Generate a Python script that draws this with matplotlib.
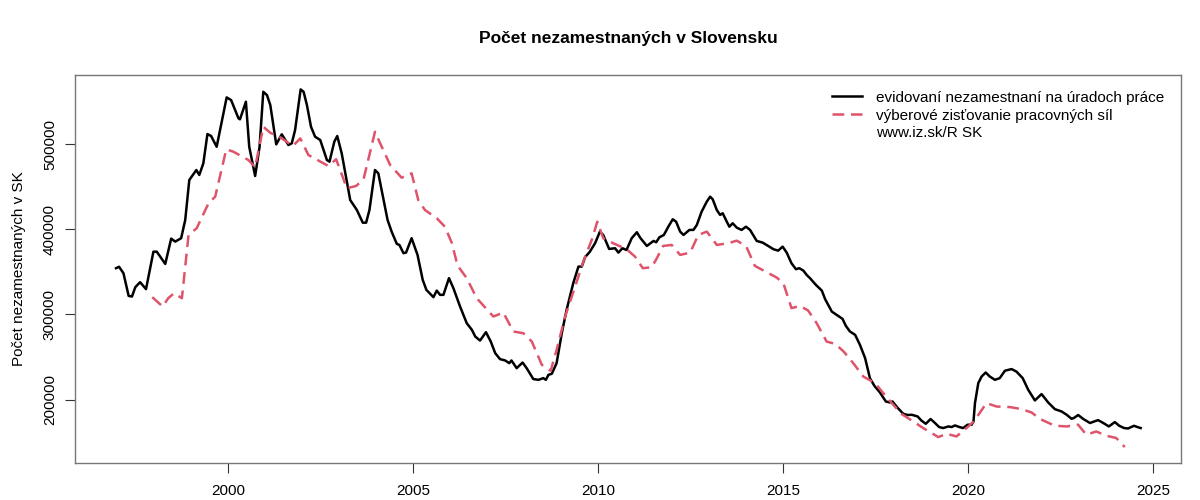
import matplotlib
matplotlib.use("Agg")
import matplotlib.pyplot as plt
import numpy as np

plt.rcParams['font.family'] = ['Liberation Sans', 'DejaVu Sans']

title = "Počet nezamestnaných v Slovensku"
ylabel = "Počet nezamestnaných v SK"
legend_labels = ["evidovaní nezamestnaní na úradoch práce",
                 "výberové zisťovanie pracovných síl",
                 "www.iz.sk/R SK"]

# registered unemployed (black)
reg_t = [1996.97, 1997.05, 1997.17, 1997.31, 1997.40, 1997.49, 1997.62, 1997.78, 1997.98, 1998.07,
         1998.30, 1998.46, 1998.57, 1998.73, 1998.84, 1998.95, 1999.14, 1999.22, 1999.33, 1999.44,
         1999.54, 1999.69, 1999.96, 2000.08, 2000.28, 2000.32, 2000.48, 2000.57, 2000.73, 2000.85,
         2000.95, 2001.05, 2001.14, 2001.30, 2001.45, 2001.63, 2001.72, 2001.81, 2001.96, 2002.04,
         2002.13, 2002.24, 2002.35, 2002.49, 2002.67, 2002.74, 2002.87, 2002.95, 2003.07, 2003.30,
         2003.48, 2003.64, 2003.73, 2003.82, 2003.97, 2004.06, 2004.15, 2004.31, 2004.42, 2004.56,
         2004.63, 2004.74, 2004.81, 2004.96, 2005.12, 2005.26, 2005.36, 2005.55, 2005.64, 2005.73,
         2005.82, 2005.97, 2006.09, 2006.27, 2006.45, 2006.59, 2006.68, 2006.81, 2006.97, 2007.10,
         2007.22, 2007.35, 2007.49, 2007.60, 2007.66, 2007.80, 2007.96, 2008.07, 2008.25, 2008.39,
         2008.52, 2008.59, 2008.66, 2008.75, 2008.88, 2009.02, 2009.15, 2009.33, 2009.47, 2009.56,
         2009.65, 2009.78, 2009.92, 2010.05, 2010.14, 2010.30, 2010.46, 2010.55, 2010.66, 2010.77,
         2010.91, 2011.05, 2011.14, 2011.32, 2011.50, 2011.57, 2011.66, 2011.78, 2011.90, 2012.02,
         2012.11, 2012.22, 2012.31, 2012.47, 2012.58, 2012.67, 2012.80, 2012.94, 2013.03, 2013.10,
         2013.21, 2013.30, 2013.37, 2013.48, 2013.55, 2013.64, 2013.75, 2013.88, 2014.00, 2014.11,
         2014.29, 2014.45, 2014.60, 2014.74, 2014.87, 2014.99, 2015.10, 2015.23, 2015.35, 2015.44,
         2015.55, 2015.64, 2015.73, 2015.89, 2016.05, 2016.14, 2016.32, 2016.45, 2016.61, 2016.70,
         2016.81, 2016.95, 2017.08, 2017.22, 2017.35, 2017.47, 2017.62, 2017.78, 2017.89, 2017.96,
         2018.09, 2018.25, 2018.37, 2018.48, 2018.64, 2018.74, 2018.86, 2018.99, 2019.11, 2019.22,
         2019.33, 2019.47, 2019.56, 2019.65, 2019.77, 2019.87, 2019.99, 2020.10, 2020.15, 2020.19,
         2020.28, 2020.37, 2020.48, 2020.59, 2020.73, 2020.86, 2021.00, 2021.18, 2021.31, 2021.48,
         2021.63, 2021.81, 2021.99, 2022.17, 2022.35, 2022.53, 2022.67, 2022.80, 2022.86, 2022.98,
         2023.12, 2023.30, 2023.41, 2023.52, 2023.66, 2023.81, 2023.97, 2024.09, 2024.22, 2024.33,
         2024.49, 2024.58, 2024.67]
reg_v = [354300, 356000, 348400, 321800, 321000, 332000, 337900, 329700, 373700, 373700,
         359300, 389000, 385500, 389500, 410900, 457800, 469500, 463700, 477400, 511700,
         509400, 496800, 554700, 551600, 530100, 529000, 549600, 496800, 462500, 496800,
         561300, 557400, 545700, 499600, 511400, 498800, 500800, 516400, 564100, 561300,
         545700, 520300, 508600, 504700, 481200, 479300, 502700, 509400, 489100, 434300,
         422600, 407700, 407700, 422600, 469500, 465600, 446100, 410900, 397200, 382800,
         381600, 371900, 372600, 389500, 369900, 340600, 328800, 320300, 328000, 323000,
         323000, 342600, 330800, 309300, 289800, 281900, 274100, 269400, 279200, 268200,
         254600, 247600, 246000, 242900, 246000, 237000, 243600, 237000, 224200, 223300,
         225300, 223300, 229200, 230400, 242900, 278000, 305400, 336700, 356200, 356200,
         367200, 373700, 383600, 397200, 393300, 376900, 377700, 372600, 377700, 375700,
         389500, 396500, 390000, 380400, 386300, 384700, 390600, 393300, 403000, 411700,
         408900, 397200, 393300, 399200, 399200, 405000, 420600, 432400, 438200, 435200,
         422600, 416800, 418800, 408900, 403000, 407000, 401900, 399200, 403000, 399200,
         386300, 384300, 380400, 376600, 374900, 379600, 372600, 360100, 353100, 354300,
         351500, 346400, 342600, 334700, 328000, 317900, 303400, 299500, 294800, 286600,
         280000, 276100, 264400, 248800, 225300, 216300, 208500, 197900, 196700, 197900,
         190900, 183500, 182000, 182300, 180300, 175600, 171700, 177300, 172600, 167900,
         166700, 168600, 167900, 169800, 167900, 166700, 170600, 170600, 174400, 196000,
         219500, 227200, 231900, 227200, 223300, 225300, 234000, 235900, 233000, 225300,
         211600, 199100, 206600, 196700, 188900, 186200, 182300, 177600, 178400, 182000,
         177300, 172600, 174400, 176000, 172600, 168600, 173700, 169400, 166700, 166200,
         169400, 167900, 166700]

# labour force survey (red dashed)
lfs_t = [1997.95, 1998.23, 1998.38, 1998.54, 1998.75, 1998.93, 1999.15, 1999.47, 1999.65, 1999.95,
         2000.14, 2000.55, 2000.73, 2000.95, 2001.14, 2001.41, 2001.75, 2001.95, 2002.17, 2002.71,
         2002.92, 2003.21, 2003.46, 2003.66, 2003.97, 2004.11, 2004.38, 2004.69, 2004.96, 2005.14,
         2005.32, 2005.64, 2005.86, 2006.05, 2006.20, 2006.45, 2006.72, 2007.17, 2007.44, 2007.71,
         2007.98, 2008.21, 2008.48, 2008.72, 2008.88, 2009.11, 2009.38, 2009.60, 2009.83, 2009.98,
         2010.14, 2010.41, 2010.77, 2011.00, 2011.21, 2011.45, 2011.59, 2011.76, 2011.99, 2012.22,
         2012.49, 2012.71, 2012.94, 2013.21, 2013.52, 2013.75, 2014.00, 2014.24, 2014.83, 2015.01,
         2015.23, 2015.46, 2015.68, 2015.91, 2016.18, 2016.41, 2016.64, 2016.90, 2017.17, 2017.49,
         2017.71, 2017.94, 2018.21, 2018.52, 2018.79, 2019.20, 2019.42, 2019.69, 2019.96, 2020.16,
         2020.50, 2020.77, 2021.14, 2021.45, 2021.72, 2021.95, 2022.35, 2022.67, 2022.98, 2023.20,
         2023.47, 2023.74, 2024.01, 2024.24]
lfs_v = [320300, 309300, 319100, 325000, 319100, 393300, 401200, 430500, 438200, 493800,
         491000, 481200, 472700, 520300, 513200, 507800, 497700, 506600, 487100, 474200,
         482100, 448100, 450800, 458600, 514400, 500800, 475400, 460500, 465600, 434300,
         422600, 412900, 403000, 383600, 357500, 342600, 319100, 297600, 302200, 280000,
         278000, 268200, 240900, 233900, 258500, 297600, 332700, 362000, 387500, 408900,
         389500, 383600, 376600, 367900, 354300, 355400, 366000, 380400, 381600, 369900,
         372600, 393300, 397200, 381600, 383600, 386600, 380400, 357000, 343300, 336700,
         307400, 310100, 304600, 289800, 268200, 265500, 256500, 242900, 227200, 219500,
         207700, 196000, 183100, 174400, 166700, 156100, 160000, 156900, 166700, 174400,
         196000, 192000, 191300, 188900, 185000, 177300, 169400, 168600, 170600, 158900,
         162700, 157700, 155000, 144400]

xticks = [2000, 2005, 2010, 2015, 2020, 2025]
yticks = [200000, 300000, 400000, 500000]

fig = plt.figure(figsize=(12, 5), dpi=100)
ax = fig.add_axes([75/1200, 1-463/500, (1181-75)/1200, (463-75)/500])

red = '#DF536B'
l1, = ax.plot(reg_t, reg_v, color='black', lw=1.8, solid_joinstyle='round')
l2, = ax.plot(lfs_t, lfs_v, color=red, lw=1.8, dashes=(4.7, 2.7), dash_capstyle='butt')

ax.set_xlim(1995.86, 2025.76)
ax.set_ylim(125700, 581000)

ax.set_xticks(xticks)
ax.set_xticklabels([str(x) for x in xticks])
ax.set_yticks(yticks)
ax.set_yticklabels([str(y) for y in yticks], rotation=90, va='center')
ax.tick_params(axis='both', direction='out', length=7, width=0.8, colors='#333333',
               labelsize=11, labelcolor='black')
ax.tick_params(axis='x', pad=8)
ax.tick_params(axis='y', pad=6)
for s in ax.spines.values():
    s.set_color('#777777')
    s.set_linewidth(1.0)

ax.set_ylabel(ylabel, fontsize=11, labelpad=12)
fig.text(628/1200, 1-38/500, title, ha='center', va='center', fontsize=12.5, fontweight='bold')

blank, = ax.plot([], [], color='none')
ax.legend([l1, l2, blank], legend_labels, loc='upper left', bbox_to_anchor=(0.6785, 0.975),
          frameon=False, fontsize=11, handlelength=2.0, handletextpad=0.9, labelspacing=0.25,
          borderaxespad=0)

fig.savefig('out.png', dpi=100)
